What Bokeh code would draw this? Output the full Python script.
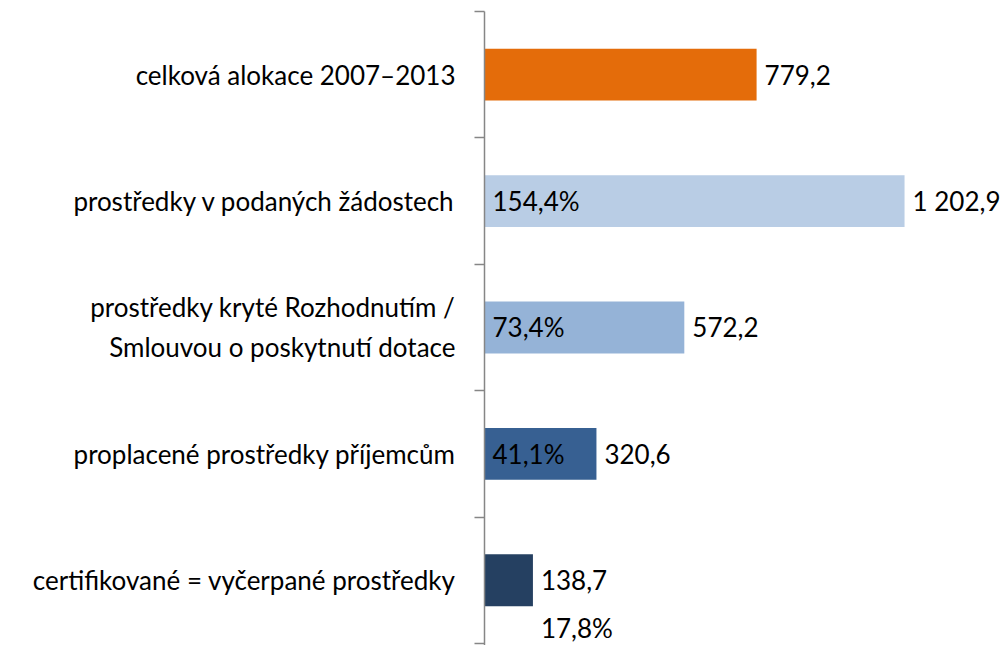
from bokeh.plotting import figure
from bokeh.models import ColumnDataSource, LabelSet, Label, Range1d, FixedTicker
from bokeh.core.properties import value
from bokeh.embed import file_html
from bokeh.resources import INLINE

categories = [
    "celková alokace 2007–2013",
    "prostředky v podaných žádostech",
    "prostředky kryté Rozhodnutím /\nSmlouvou o poskytnutí dotace",
    "proplacené prostředky příjemcům",
    "certifikované = vyčerpané prostředky",
]
values = [779.2, 1202.9, 572.2, 320.6, 138.7]
value_labels = ["779,2", "1 202,9", "572,2", "320,6", "138,7"]
percent_labels = ["", "154,4%", "73,4%", "41,1%", "17,8%"]
colors = ["#E46C0A", "#B9CDE5", "#95B3D7", "#376092", "#254061"]

n = len(categories)
ypos = [n - i - 0.5 for i in range(n)]

FONT = "Lato"
FS = "26px"

src = ColumnDataSource(dict(y=ypos, value=values, vlab=value_labels,
                            color=colors, zero=[0] * n))
inside = ColumnDataSource(dict(y=ypos[1:n - 1], zero=[0] * (n - 2),
                               plab=percent_labels[1:n - 1]))

p = figure(width=1005, height=645, output_backend="svg", toolbar_location=None,
           x_range=Range1d(0, 1492), y_range=Range1d(-0.016, n),
           x_axis_location=None, min_border_left=484, min_border_right=0,
           min_border_top=11, min_border_bottom=0)
p.outline_line_color = None
p.grid.visible = False

p.hbar(y="y", left="zero", right="value", height=0.41, fill_color="color",
       line_color=None, source=src)

ax = p.yaxis[0]
ax.ticker = FixedTicker(ticks=ypos, minor_ticks=list(range(n + 1)))
ax.major_label_overrides = {y: c for y, c in zip(ypos, categories)}
ax.axis_line_color = "#868686"
ax.axis_line_width = 1.5
ax.major_tick_line_color = None
ax.major_tick_out = 0
ax.major_tick_in = 0
ax.minor_tick_line_color = "#868686"
ax.minor_tick_line_width = 1.5
ax.minor_tick_out = 10
ax.minor_tick_in = 0
ax.major_label_standoff = 19
ax.major_label_text_font = FONT
ax.major_label_text_font_size = FS
ax.major_label_text_font_style = "normal"
ax.major_label_text_color = "#000000"
ax.major_label_text_line_height = 1.25

p.add_layout(LabelSet(x="value", y="y", text="vlab", source=src, x_offset=8,
                      text_baseline="middle", text_align="left",
                      text_font=value(FONT), text_font_size=value(FS),
                      text_color="#000000"))
p.add_layout(LabelSet(x="zero", y="y", text="plab", source=inside, x_offset=8,
                      text_baseline="middle", text_align="left",
                      text_font=value(FONT), text_font_size=value(FS),
                      text_color="#000000"))
p.add_layout(Label(x=values[-1], y=ypos[-1], text=percent_labels[-1],
                   x_offset=8, y_offset=-48, text_baseline="middle",
                   text_align="left", text_font=FONT, text_font_size=FS,
                   text_color="#000000"))

open("out.html", "w").write(file_html(p, INLINE))
